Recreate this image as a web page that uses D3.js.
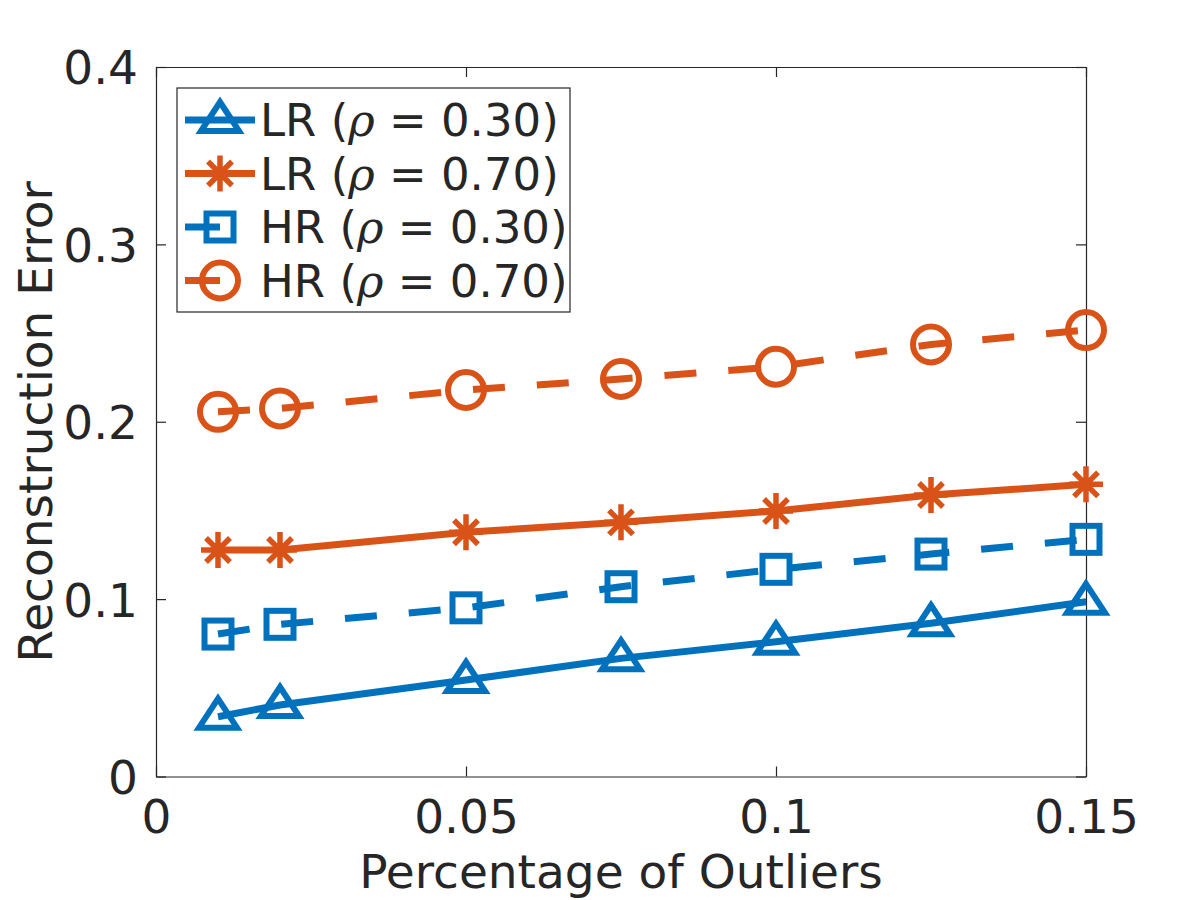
<!DOCTYPE html>
<html>
<head>
<meta charset="utf-8">
<script src="https://d3js.org/d3.v7.min.js"></script>
<style>
  body { margin: 0; background: #fff; }
  text { font-family: "DejaVu Sans", sans-serif; fill: #262626; }
</style>
</head>
<body>
<div class="chart"></div>
<script>
// data
var outlierPct = [0.01, 0.02, 0.05, 0.075, 0.1, 0.125, 0.15];
var lr30 = [0.0337, 0.0403, 0.0544, 0.0666, 0.0760, 0.0864, 0.0985];
var lr70 = [0.1277, 0.1277, 0.1377, 0.1433, 0.1497, 0.1587, 0.1647];
var hr30 = [0.0803, 0.0858, 0.0951, 0.1070, 0.1168, 0.1254, 0.1337];
var hr70 = [0.2056, 0.2075, 0.2179, 0.2241, 0.2310, 0.2436, 0.2517];
var seriesNames = ["LR", "LR", "HR", "HR"];
var seriesRho = ["0.30", "0.70", "0.30", "0.70"];
var xTicks = [0, 0.05, 0.1, 0.15];
var yTicks = [0, 0.1, 0.2, 0.3, 0.4];

var svgWidth = 1200;
var svgHeight = 900;

var margin = {
  top: 67,
  right: 114,
  bottom: 123.5,
  left: 156
};

var width = svgWidth - margin.left - margin.right;
var height = svgHeight - margin.top - margin.bottom;

var blue = "#0072BD";
var orange = "#D95319";

var svg = d3
  .select(".chart")
  .append("svg")
  .attr("width", svgWidth)
  .attr("height", svgHeight);

var chartGroup = svg.append("g")
  .attr("transform", `translate(${margin.left}, ${margin.top})`);

var xLinearScale = d3.scaleLinear().domain([0, 0.15]).range([0, width]);
var yLinearScale = d3.scaleLinear().domain([0, 0.4]).range([height, 0]);

// series table built from the arrays above
var series = [
  { values: lr30, color: blue, dash: null, marker: "triangle" },
  { values: lr70, color: orange, dash: null, marker: "star" },
  { values: hr30, color: blue, dash: "32,32", marker: "square" },
  { values: hr70, color: orange, dash: "32,32", marker: "circle" }
];

// marker drawing
function drawMarker(g, type, color) {
  var m = g.append("g");
  if (type === "triangle") {
    m.append("path").attr("d", "M0,-18L19,11L-19,11Z")
      .attr("fill", "none").attr("stroke", color).attr("stroke-width", 6)
      .attr("stroke-linejoin", "miter");
  } else if (type === "square") {
    m.append("rect").attr("x", -13.5).attr("y", -13.5).attr("width", 27).attr("height", 27)
      .attr("fill", "none").attr("stroke", color).attr("stroke-width", 6);
  } else if (type === "circle") {
    m.append("circle").attr("r", 18)
      .attr("fill", "none").attr("stroke", color).attr("stroke-width", 6);
  } else {
    m.append("path").attr("d", "M-17,0H17M0,-18V18M-12,-12L12,12M-12,12L12,-12")
      .attr("fill", "none").attr("stroke", color).attr("stroke-width", 5.5);
  }
  return m;
}

// axes (box with inward ticks)
var bottomAxis = d3.axisBottom(xLinearScale).tickValues(xTicks).tickSizeInner(-10).tickSizeOuter(0)
  .tickPadding(23).tickFormat(d => d === 0 ? "0" : d3.format("")(d));
var leftAxis = d3.axisLeft(yLinearScale).tickValues(yTicks).tickSizeInner(-10).tickSizeOuter(0)
  .tickPadding(18).tickFormat(d => d === 0 ? "0" : d3.format("")(d));
var topAxis = d3.axisTop(xLinearScale).tickValues(xTicks).tickSizeInner(-10).tickSizeOuter(0).tickFormat("");
var rightAxis = d3.axisRight(yLinearScale).tickValues(yTicks).tickSizeInner(-10).tickSizeOuter(0).tickFormat("");

var xAxis = chartGroup.append("g")
  .attr("transform", `translate(0, ${height})`)
  .call(bottomAxis);
var yAxis = chartGroup.append("g").call(leftAxis);
var tAxis = chartGroup.append("g").call(topAxis);
var rAxis = chartGroup.append("g").attr("transform", `translate(${width}, 0)`).call(rightAxis);

[xAxis, yAxis, tAxis, rAxis].forEach(function(a) {
  a.select(".domain").attr("stroke", "#262626").attr("stroke-width", 1.2);
  a.selectAll(".tick line").attr("stroke", "#262626").attr("stroke-width", 1.2);
  a.selectAll("text").attr("font-size", 47).attr("fill", "#262626")
    .attr("font-family", "DejaVu Sans, sans-serif");
});
yAxis.selectAll("text").attr("dy", "0.36em");

// lines and markers
var line = d3.line()
  .x((d, i) => xLinearScale(outlierPct[i]))
  .y(d => yLinearScale(d));

series.forEach(function(s) {
  chartGroup.append("path")
    .datum(s.values)
    .attr("d", line)
    .attr("fill", "none")
    .attr("stroke", s.color)
    .attr("stroke-width", 7)
    .attr("stroke-dasharray", s.dash);

  s.values.forEach(function(v, i) {
    drawMarker(chartGroup, s.marker, s.color)
      .attr("transform", `translate(${xLinearScale(outlierPct[i])}, ${yLinearScale(v)})`);
  });
});

// axis labels
chartGroup.append("text")
  .attr("x", width / 2)
  .attr("y", height + 111)
  .attr("text-anchor", "middle")
  .attr("font-size", 47)
  .text("Percentage of Outliers");

chartGroup.append("text")
  .attr("transform", "rotate(-90)")
  .attr("x", 0 - (height / 2))
  .attr("y", 52 - margin.left)
  .attr("text-anchor", "middle")
  .attr("font-size", 47)
  .text("Reconstruction Error");

// legend
var legend = svg.append("g").attr("transform", "translate(177, 88)");
legend.append("rect")
  .attr("width", 393).attr("height", 224)
  .attr("fill", "#fff").attr("stroke", "#262626").attr("stroke-width", 1.2);

series.forEach(function(s, i) {
  var row = legend.append("g").attr("transform", `translate(0, ${32 + i * 53.5})`);
  row.append("line")
    .attr("x1", 8).attr("x2", s.dash ? 43 : 78)
    .attr("stroke", s.color).attr("stroke-width", 7);
  drawMarker(row, s.marker, s.color).attr("transform", "translate(43, 0)");
  var t = row.append("text")
    .attr("x", 83).attr("dy", "0.36em")
    .attr("font-size", 45);
  t.append("tspan").text(seriesNames[i] + " (");
  t.append("tspan").attr("font-style", "italic").attr("font-family", "DejaVu Serif, serif").text("ρ");
  t.append("tspan").text(" = " + seriesRho[i] + ")");
});
</script>
</body>
</html>
